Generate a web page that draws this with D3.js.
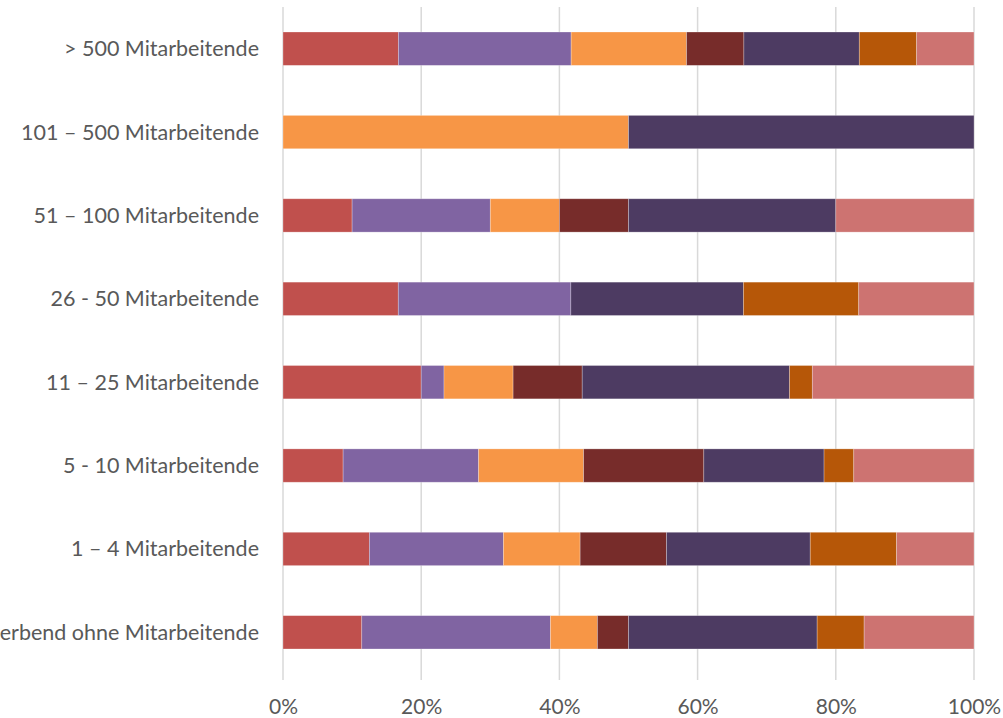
<!DOCTYPE html>
<html>
<head>
<meta charset="utf-8">
<script src="https://cdn.jsdelivr.net/npm/d3@7"></script>
<style>
  html, body { margin: 0; padding: 0; background: #fff; }
  svg { display: block; }
</style>
</head>
<body>
<div id="chart"></div>
<script>
// categories, top to bottom
const categories = [
    "> 500 Mitarbeitende",
    "101 – 500 Mitarbeitende",
    "51 – 100 Mitarbeitende",
    "26 - 50 Mitarbeitende",
    "11 – 25 Mitarbeitende",
    "5 - 10 Mitarbeitende",
    "1 – 4 Mitarbeitende",
    "Erwerbend ohne Mitarbeitende"
];

// share per series (%), same order as categories
const series1 = [16.7, 0, 10, 16.7, 20, 8.7, 12.5, 11.4];
const series2 = [25, 0, 20, 25, 3.3, 19.6, 19.4, 27.3];
const series3 = [16.7, 50, 10, 0, 10, 15.2, 11.1, 6.8];
const series4 = [8.3, 0, 10, 0, 10, 17.4, 12.5, 4.5];
const series5 = [16.7, 50, 30, 25, 30, 17.4, 20.8, 27.3];
const series6 = [8.3, 0, 0, 16.7, 3.3, 4.3, 12.5, 6.8];
const series7 = [8.3, 0, 20, 16.7, 23.4, 17.4, 11.2, 15.9];

const seriesKeys = ["s1", "s2", "s3", "s4", "s5", "s6", "s7"];
const seriesColors = ["#C0504D", "#8064A2", "#F79646", "#772C2A", "#4D3B62", "#B65708", "#CD7371"];

const xTicks = [0, 0.2, 0.4, 0.6, 0.8, 1];

const rows = categories.map((c, i) => ({
    category: c,
    s1: series1[i], s2: series2[i], s3: series3[i], s4: series4[i],
    s5: series5[i], s6: series6[i], s7: series7[i]
}));

const width = 1003, height = 718;
const margin = { top: 7, right: 29, bottom: 44, left: 283 };
const font = "Lato, 'Open Sans', sans-serif";

const svg = d3.select("#chart").append("svg")
    .attr("width", width)
    .attr("height", height)
    .attr("font-family", font);

const x = d3.scaleLinear()
    .domain([0, 1])
    .range([margin.left, width - margin.right]);

const y = d3.scaleBand()
    .domain(categories)
    .range([margin.top, height - margin.bottom])
    .paddingInner(0.6)
    .paddingOuter(0.3);

// gridlines
svg.append("g")
    .selectAll("line")
    .data(xTicks)
    .join("line")
    .attr("x1", d => x(d))
    .attr("x2", d => x(d))
    .attr("y1", margin.top)
    .attr("y2", height - margin.bottom + 6)
    .attr("stroke", "#D9D9D9")
    .attr("stroke-width", 1.5);

// stacked bars, normalised to 100%
const stacked = d3.stack()
    .keys(seriesKeys)
    .offset(d3.stackOffsetExpand)(rows);

svg.append("g")
    .selectAll("g")
    .data(stacked)
    .join("g")
    .attr("fill", (d, i) => seriesColors[i])
    .selectAll("rect")
    .data(d => d)
    .join("rect")
    .attr("x", d => x(d[0]))
    .attr("y", d => y(d.data.category))
    .attr("width", d => Math.max(0, x(d[1]) - x(d[0])))
    .attr("height", y.bandwidth())
    .attr("stroke", "rgba(255,255,255,0.35)")
    .attr("stroke-width", d => (d[1] - d[0]) > 0 ? 0.75 : 0);

// category labels (the longest one runs past the left edge, as in the original)
svg.append("g")
    .selectAll("text")
    .data(categories)
    .join("text")
    .attr("x", margin.left - 24)
    .attr("y", d => y(d) + y.bandwidth() / 2)
    .attr("dy", "0.35em")
    .attr("text-anchor", "end")
    .attr("font-size", 21.5)
    .attr("fill", "#595959")
    .text(d => d);

// x axis labels
const xAxis = d3.axisBottom(x)
    .tickValues(xTicks)
    .tickFormat(d3.format(".0%"))
    .tickSize(0)
    .tickPadding(0);

svg.append("g")
    .attr("transform", `translate(0,${height - 11})`)
    .call(xAxis)
    .call(g => g.select(".domain").remove())
    .call(g => g.selectAll("text")
        .attr("dy", "0.35em")
        .attr("font-size", 21)
        .attr("font-family", font)
        .attr("fill", "#595959"));
</script>
</body>
</html>
